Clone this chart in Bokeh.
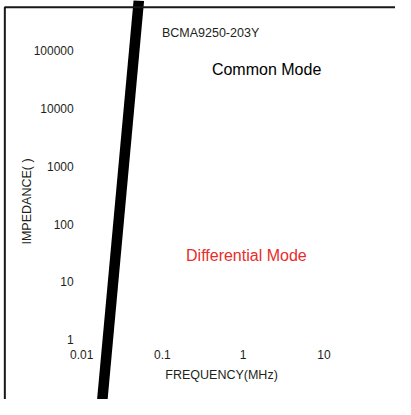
from math import pi
from bokeh.plotting import figure
from bokeh.models import Range1d, ColumnDataSource, BoxAnnotation
from bokeh.core.properties import value
from bokeh.embed import file_html
from bokeh.resources import INLINE

# ---- data ----
x_ticks = [0.01, 0.1, 1, 10]
x_tick_labels = ["0.01", "0.1", "1", "10"]
y_ticks = [1, 10, 100, 1000, 10000, 100000]
y_tick_labels = ["1", "10", "100", "1000", "10000", "100000"]
curve_freq = [0.018, 0.051]
curve_impedance = [0.09, 750000]

title_text = "BCMA9250-203Y"
common_text = "Common Mode"
diff_text = "Differential Mode"
x_label = "FREQUENCY(MHz)"
y_label = "IMPEDANCE( )"

FONT = value("Liberation Sans")
TXT = "#231f20"
RED = "#e82c2a"

p = figure(width=395, height=399, x_axis_type="log", y_axis_type="log",
           x_range=Range1d(0.000986, 77.1), y_range=Range1d(0.0908, 750000),
           output_backend="svg", toolbar_location=None, min_border=0)
p.axis.visible = False
p.grid.visible = False
p.outline_line_color = None
p.background_fill_color = "white"
p.border_fill_color = "white"

# box border (only top and left edges fall inside the canvas)
p.add_layout(BoxAnnotation(left=0.001116, top=573000, right=1e4, bottom=1e-3,
                           fill_alpha=0, line_color="#1a1718", line_alpha=1.0,
                           line_width=2))

# thick curve
p.line(curve_freq, curve_impedance, line_color="black", line_width=10.5)

# x tick labels
xs = ColumnDataSource(dict(x=x_ticks, y=[y_ticks[0]] * len(x_ticks), t=x_tick_labels))
p.text("x", "y", text="t", source=xs, text_font=FONT, text_font_size="12px",
       text_color=TXT, text_align="center", text_baseline="middle", y_offset=15)

# y tick labels
ys = ColumnDataSource(dict(x=[x_ticks[0]] * len(y_ticks), y=y_ticks, t=y_tick_labels))
p.text("x", "y", text="t", source=ys, text_font=FONT, text_font_size="12px",
       text_color=TXT, text_align="right", text_baseline="middle", x_offset=-8)

# titles / annotations
p.text(x=[0.0986], y=[203000], text=[title_text], text_font=FONT, text_font_size="12.5px",
       text_color=TXT, text_align="left", text_baseline="middle")
p.text(x=[0.41], y=[47300], text=[common_text], text_font=FONT, text_font_size="16px",
       text_color="black", text_align="left", text_baseline="middle")
p.text(x=[0.196], y=[28.7], text=[diff_text], text_font=FONT, text_font_size="16px",
       text_color=RED, text_align="left", text_baseline="middle")
p.text(x=[0.54], y=[0.246], text=[x_label], text_font=FONT, text_font_size="12.5px",
       text_color=TXT, text_align="center", text_baseline="middle")
p.text(x=[0.00212], y=[246], text=[y_label], text_font=FONT, text_font_size="12.5px",
       text_color=TXT, text_align="center", text_baseline="middle", angle=pi / 2)

open("out.html", "w").write(file_html(p, INLINE))
